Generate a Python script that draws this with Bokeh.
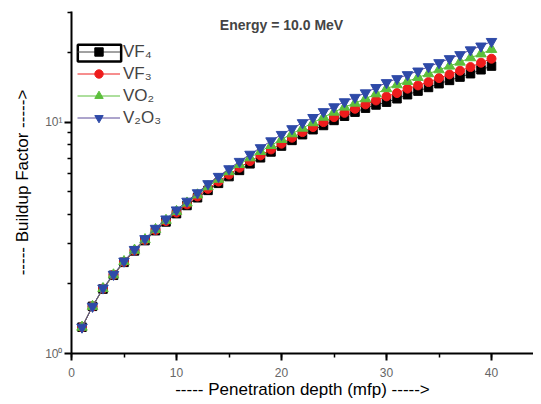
from bokeh.plotting import figure
from bokeh.models import (Range1d, SingleIntervalTicker, FixedTicker, Legend, LegendItem,
                          Label, BoxAnnotation)
from bokeh.embed import file_html
from bokeh.resources import INLINE

depth = list(range(1, 41))

vf4 = [1.30, 1.60, 1.90, 2.18, 2.48, 2.78, 3.08, 3.40, 3.71, 4.03,
       4.37, 4.72, 5.08, 5.45, 5.83, 6.20, 6.62, 7.03, 7.45, 7.90,
       8.36, 8.85, 9.30, 9.70, 10.20, 10.64, 11.08, 11.53, 11.90, 12.24,
       12.66, 13.18, 13.66, 14.17, 14.71, 15.20, 15.71, 16.25, 16.90, 17.53]
vf3 = [1.30, 1.60, 1.91, 2.19, 2.49, 2.79, 3.10, 3.42, 3.74, 4.07,
       4.42, 4.78, 5.16, 5.55, 5.95, 6.37, 6.80, 7.20, 7.64, 8.09,
       8.59, 9.08, 9.55, 10.03, 10.54, 11.00, 11.46, 11.97, 12.45, 12.96,
       13.40, 14.00, 14.46, 14.95, 15.55, 16.14, 16.74, 17.36, 18.13, 18.87]
vo2 = [1.30, 1.60, 1.91, 2.19, 2.50, 2.80, 3.11, 3.44, 3.77, 4.12,
       4.48, 4.86, 5.27, 5.68, 6.12, 6.58, 7.03, 7.49, 7.95, 8.44,
       8.93, 9.45, 9.97, 10.54, 11.08, 11.65, 12.12, 12.66, 13.30, 14.00,
       14.56, 15.05, 15.66, 16.25, 16.90, 17.53, 18.24, 19.05, 19.80, 20.70]
v2o3 = [1.30, 1.60, 1.92, 2.20, 2.51, 2.82, 3.14, 3.48, 3.82, 4.18,
        4.56, 4.96, 5.43, 5.84, 6.30, 6.78, 7.28, 7.77, 8.32, 8.87,
        9.39, 9.97, 10.50, 11.13, 11.68, 12.28, 12.83, 13.42, 14.15, 14.86,
        15.46, 16.09, 16.68, 17.42, 18.13, 18.87, 19.64, 20.60, 21.40, 22.40]

labels = ["VF\u2084", "VF\u2083", "VO\u2082", "V\u2082O\u2083"]
y_major = [1, 10]
y_minor = [2, 3, 4, 5, 6, 7, 8, 9, 20, 30]
y_tick_labels = {1: "10\u2070", 10: "10\u00b9"}
title_text = "Energy = 10.0 MeV"
x_label = "----- Penetration depth (mfp) ----->"
y_label = "----- Buildup Factor ----->"

FONT = "Liberation Sans"

p = figure(frame_width=462, frame_height=342, output_backend="svg", toolbar_location=None,
           y_axis_type="log", x_range=Range1d(0, 44), y_range=Range1d(1, 30.2),
           min_border_left=71, min_border_right=0, min_border_top=11, min_border_bottom=43)
p.outline_line_color = None
p.xgrid.visible = False
p.ygrid.visible = False
p.background_fill_color = "white"

p.xaxis.ticker = SingleIntervalTicker(interval=10, num_minor_ticks=2)
p.yaxis.ticker = FixedTicker(ticks=y_major, minor_ticks=y_minor)
p.yaxis.major_label_overrides = y_tick_labels

for ax in (p.xaxis, p.yaxis):
    ax.axis_line_width = 2
    ax.axis_line_color = "black"
    ax.major_tick_line_width = 2
    ax.minor_tick_line_width = 1.5
    ax.major_tick_line_color = "black"
    ax.minor_tick_line_color = "black"
    ax.major_tick_in = 0
    ax.major_tick_out = 7
    ax.minor_tick_in = 0
    ax.minor_tick_out = 4
    ax.major_label_text_font = FONT
    ax.major_label_text_font_size = "12px"
    ax.major_label_text_color = "#666666"
    ax.axis_label_text_font = FONT
    ax.axis_label_text_font_size = "17px"
    ax.axis_label_text_font_style = "normal"
    ax.axis_label_text_color = "black"

p.xaxis.axis_label = x_label
p.yaxis.axis_label = y_label
p.xaxis.major_label_standoff = 7
p.xaxis.axis_label_standoff = 0
p.yaxis.major_label_standoff = 2
p.yaxis.axis_label_standoff = 10

series = [
    (vf4, "black", "#444444", "square", 8.5),
    (vf3, "#ee1c1c", "#ee1c1c", "circle", 9),
    (vo2, "#5cbf3c", "#5cbf3c", "triangle", 10.5),
    (v2o3, "#2e4aa8", "#5a4a9a", "inverted_triangle", 10.5),
]

items = []
for (vals, mcol, lcol, marker, size), lab in zip(series, labels):
    r1 = p.line(depth, vals, line_color=lcol, line_width=1)
    r2 = p.scatter(depth, vals, marker=marker, size=size, fill_color=mcol, line_color=mcol)
    items.append(LegendItem(label=lab, renderers=[r1, r2]))

legend = Legend(items=items, location=(6, 225), padding=0, spacing=1, margin=0,
                border_line_color=None, background_fill_alpha=0,
                glyph_width=43, glyph_height=21, label_height=21,
                label_standoff=3, label_text_font=FONT, label_text_font_size="17px")
p.add_layout(legend)

# highlight box around first legend glyph
p.add_layout(BoxAnnotation(left=0.6, right=4.73, bottom=18.37, top=21.7,
                           fill_alpha=0, line_color="black", line_alpha=1.0,
                           line_width=2.5))

p.add_layout(Label(x=20, y=26.3, text=title_text, text_align="center",
                   text_baseline="middle", text_font=FONT, text_font_size="14px",
                   text_font_style="bold"))

open("out.html", "w").write(file_html(p, INLINE))
